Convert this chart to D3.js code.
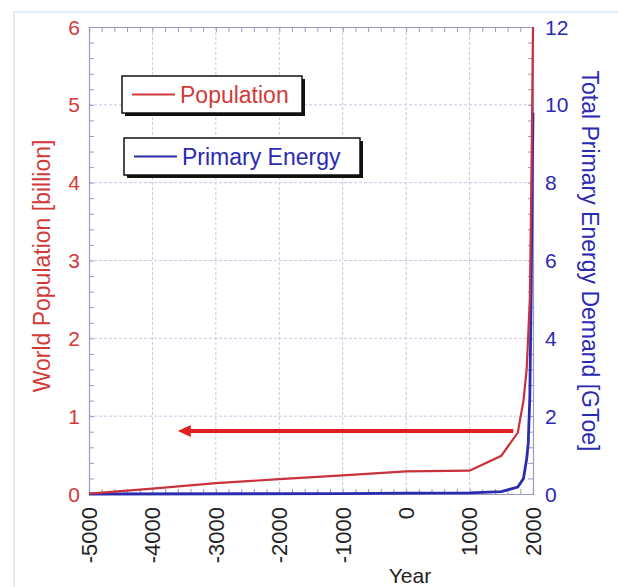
<!DOCTYPE html>
<html><head><meta charset="utf-8">
<script src="https://cdn.jsdelivr.net/npm/d3@7"></script>
<style>body{margin:0;background:#fff}svg{display:block;font-family:"Liberation Sans",Arial,sans-serif}</style>
</head><body><svg id="c" width="618" height="587"></svg>
<script>
const popYears = [-5000,-4000,-3000,-2000,-1000,0,1000,1500,1760,1850,1900,1950,1975,2000];
const popValues = [0.005,0.07,0.14,0.19,0.24,0.29,0.3,0.49,0.79,1.2,1.6,2.5,4.0,6.0];
const enYears = [-5000,-1000,0,1000,1500,1760,1850,1900,1925,1950,1970,1990,2000];
const enValues = [0.0,0.01,0.02,0.03,0.06,0.18,0.4,0.9,1.3,2.5,5.0,8.5,9.8];
const xTicks = [-5000,-4000,-3000,-2000,-1000,0,1000,2000];
const popTicks = [0,1,2,3,4,5,6];
const enTicks = [0,2,4,6,8,10,12];
const arrowYears = [1690,-3600];
const arrowPop = 0.81;
const legendLabels = ["Population","Primary Energy"];

(function(){
const RED = "#d23a3a", BLUE = "#2b2bb0", GRID = "#c9c6e4";
const svg = d3.select("#c");
const L = 89, R = 533, T = 27, B = 494;
const x = d3.scaleLinear().domain([-5000,2000]).range([L,R]);
const yP = d3.scaleLinear().domain([0,6]).range([B,T]);
const yE = d3.scaleLinear().domain([0,12]).range([B,T]);

svg.append("path").attr("d","M14,587 V12 H618").attr("fill","none").attr("stroke","#d8e6f2").attr("stroke-width",1.5);

const g = svg.append("g");
g.selectAll(".vg").data(xTicks.slice(1,-1)).join("line")
  .attr("x1",d=>x(d)).attr("x2",d=>x(d)).attr("y1",T).attr("y2",B)
  .attr("stroke",GRID).attr("stroke-dasharray","3,2").attr("stroke-width",1);
g.selectAll(".hg").data(popTicks.slice(1,-1)).join("line")
  .attr("x1",L).attr("x2",R).attr("y1",d=>yP(d)).attr("y2",d=>yP(d))
  .attr("stroke",GRID).attr("stroke-dasharray","3,2").attr("stroke-width",1);

const axC = "#9a98c8";
const axB = svg.append("g").attr("transform",`translate(0,${B})`)
  .call(d3.axisBottom(x).tickValues(d3.range(-5000,2001,200)).tickSize(-5).tickFormat(""));
const axT = svg.append("g").attr("transform",`translate(0,${T})`)
  .call(d3.axisTop(x).tickValues(d3.range(-5000,2001,200)).tickSize(-5).tickFormat(""));
const axL = svg.append("g").attr("transform",`translate(${L},0)`)
  .call(d3.axisLeft(yP).tickValues(d3.range(0,6.01,0.2)).tickSize(-5).tickFormat(""));
const axR = svg.append("g").attr("transform",`translate(${R},0)`)
  .call(d3.axisRight(yE).tickValues(d3.range(0,12.01,0.4)).tickSize(-5).tickFormat(""));
[axB,axT,axL,axR].forEach(a=>{a.selectAll("path,line").attr("stroke",axC);a.select(".domain").attr("stroke-width",1.2);});

svg.append("g").selectAll("text").data(popTicks).join("text")
  .attr("x",L-9).attr("y",d=>yP(d)).attr("dy","0.36em").attr("text-anchor","end")
  .attr("font-size",21).attr("fill",RED).text(d=>d);
svg.append("g").selectAll("text").data(enTicks).join("text")
  .attr("x",R+12).attr("y",d=>yE(d)).attr("dy","0.36em").attr("text-anchor","start")
  .attr("font-size",21).attr("fill",BLUE).text(d=>d);
svg.append("g").selectAll("text").data(xTicks).join("text")
  .attr("transform",d=>`translate(${x(d)},${B+13}) rotate(-90)`).attr("dy","0.36em")
  .attr("text-anchor","end").attr("font-size",22).attr("fill","#222").text(d=>d);

svg.append("text").attr("transform",`translate(42,266) rotate(-90)`).attr("text-anchor","middle")
  .attr("dy","0.36em").attr("font-size",23).attr("fill",RED).text("World Population [billion]");
svg.append("text").attr("transform",`translate(590,261) rotate(90)`).attr("text-anchor","middle")
  .attr("dy","0.36em").attr("font-size",23).attr("fill",BLUE).text("Total Primary Energy Demand [GToe]");
svg.append("text").attr("x",410).attr("y",583).attr("text-anchor","middle").attr("font-size",21).attr("fill","#222").text("Year");

const popLine = d3.line().x((d,i)=>x(popYears[i])).y(d=>yP(d));
const enLine = d3.line().x((d,i)=>x(enYears[i])).y(d=>yE(d));
svg.append("path").attr("d",enLine(enValues)).attr("fill","none").attr("stroke",BLUE).attr("stroke-width",2.8);
svg.append("path").attr("d",popLine(popValues)).attr("fill","none").attr("stroke","#c8323a").attr("stroke-width",2.2);

const ax1 = x(arrowYears[0]), ax2 = x(arrowYears[1]), ay = yP(arrowPop);
svg.append("line").attr("x1",ax1).attr("x2",ax2+10).attr("y1",ay).attr("y2",ay).attr("stroke","#e02020").attr("stroke-width",4);
svg.append("path").attr("d",`M${ax2},${ay} L${ax2+13},${ay-6} L${ax2+13},${ay+6} Z`).attr("fill","#e02020");

const legends = [{x:122,y:76,w:180,h:37,c:RED},{x:124,y:138,w:236,h:37,c:BLUE}];
legends.forEach((lg,i)=>{
  const gg = svg.append("g");
  gg.append("rect").attr("x",lg.x+3).attr("y",lg.y+3).attr("width",lg.w).attr("height",lg.h).attr("fill","#111");
  gg.append("rect").attr("x",lg.x).attr("y",lg.y).attr("width",lg.w).attr("height",lg.h).attr("fill","#fff").attr("stroke","#111").attr("stroke-width",1.5);
  gg.append("line").attr("x1",lg.x+10).attr("x2",lg.x+53).attr("y1",lg.y+lg.h/2).attr("y2",lg.y+lg.h/2).attr("stroke",lg.c).attr("stroke-width",2);
  gg.append("text").attr("x",lg.x+58).attr("y",lg.y+lg.h/2).attr("dy","0.36em").attr("font-size",23).attr("fill",lg.c).text(legendLabels[i]);
});
})();
</script></body></html>
